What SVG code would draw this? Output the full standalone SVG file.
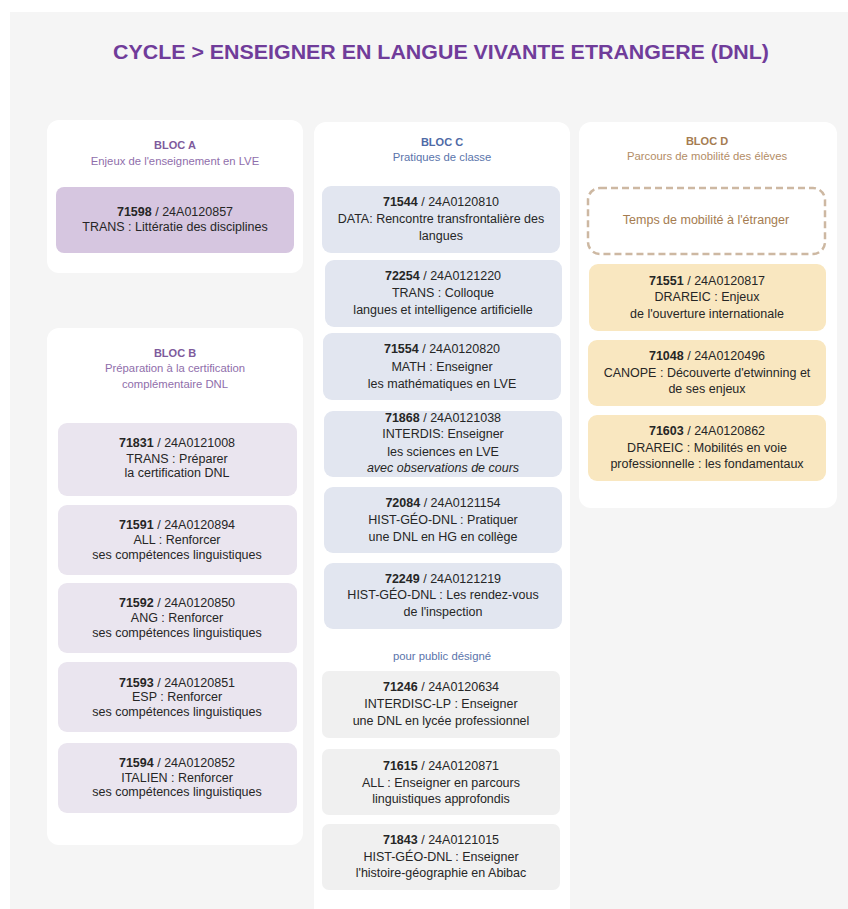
<svg xmlns="http://www.w3.org/2000/svg" width="848" height="909" viewBox="0 0 848 909">
<style>
text{font-family:"Liberation Sans",Arial,sans-serif;text-anchor:middle}
.panel{fill:#ffffff}
.t{font-size:12.5px;fill:#262626}
.b{font-weight:bold}
.hA{font-size:11px;font-weight:bold;fill:#7e5b9c}
.sA{font-size:11.3px;fill:#8f6eab}
.hC{font-size:11px;font-weight:bold;fill:#4e6aa6}
.sC{font-size:11.3px;fill:#5a74ab}
.hD{font-size:11px;font-weight:bold;fill:#a57c50}
.sD{font-size:11.3px;fill:#b38d66}
.nA{fill:#d6c6e0}
.nB{fill:#eae5ef}
.nC{fill:#e2e6f0}
.nP{fill:#f0f0f0}
.nD{fill:#f9e7c0}
</style>
<rect x="0" y="0" width="848" height="909" fill="#ffffff"/>
<rect x="10" y="12" width="838" height="897" fill="#f5f5f5"/>
<text x="441" y="59" font-size="21" font-weight="bold" fill="#703c9a" textLength="656" lengthAdjust="spacingAndGlyphs">CYCLE &gt; ENSEIGNER EN LANGUE VIVANTE ETRANGERE (DNL)</text>

<g id="blocA">
<rect class="panel" x="47" y="120" width="256" height="153" rx="12"/>
<text class="hA" x="175" y="149">BLOC A</text>
<text class="sA" x="175" y="165">Enjeux  de l'enseignement  en LVE</text>
</g>
<g id="n71598">
<rect class="nA" x="56" y="187" width="238" height="66" rx="8"/>
<text class="t" x="175" y="216"><tspan class="b">71598</tspan> / 24A0120857</text>
<text class="t" x="175" y="231">TRANS :  Littératie des disciplines</text>
</g>

<g id="blocB">
<rect class="panel" x="47" y="328" width="256" height="517" rx="12"/>
<text class="hA" x="175" y="357">BLOC B</text>
<text class="sA" x="175" y="372">Préparation  à la certification</text>
<text class="sA" x="175" y="388">complémentaire  DNL</text>
</g>
<g id="n71831">
<rect class="nB" x="58" y="423" width="239" height="73" rx="9"/>
<text class="t" x="177" y="447"><tspan class="b">71831</tspan> / 24A0121008</text>
<text class="t" x="177" y="463">TRANS : Préparer</text>
<text class="t" x="177" y="477">la certification DNL</text>
</g>
<g id="n71591">
<rect class="nB" x="58" y="505" width="239" height="70" rx="9"/>
<text class="t" x="177" y="529"><tspan class="b">71591</tspan> / 24A0120894</text>
<text class="t" x="177" y="544">ALL : Renforcer</text>
<text class="t" x="177" y="559">ses compétences linguistiques</text>
</g>
<g id="n71592">
<rect class="nB" x="58" y="583" width="239" height="70" rx="9"/>
<text class="t" x="177" y="607"><tspan class="b">71592</tspan> / 24A0120850</text>
<text class="t" x="177" y="622">ANG : Renforcer</text>
<text class="t" x="177" y="637">ses compétences linguistiques</text>
</g>
<g id="n71593">
<rect class="nB" x="58" y="662" width="239" height="70" rx="9"/>
<text class="t" x="177" y="687"><tspan class="b">71593</tspan> / 24A0120851</text>
<text class="t" x="177" y="701">ESP : Renforcer</text>
<text class="t" x="177" y="716">ses compétences linguistiques</text>
</g>
<g id="n71594">
<rect class="nB" x="58" y="743" width="239" height="70" rx="9"/>
<text class="t" x="177" y="767"><tspan class="b">71594</tspan> / 24A0120852</text>
<text class="t" x="177" y="782">ITALIEN : Renforcer</text>
<text class="t" x="177" y="796">ses compétences linguistiques</text>
</g>

<g id="blocC">
<rect class="panel" x="314" y="122" width="256" height="800" rx="12"/>
<text class="hC" x="442" y="146">BLOC C</text>
<text class="sC" x="442" y="161">Pratiques  de classe</text>
<text class="sC" x="442" y="660" font-size="12">pour public désigné</text>
</g>
<g id="n71544">
<rect class="nC" x="322" y="186" width="238" height="67" rx="9"/>
<text class="t" x="441" y="206"><tspan class="b">71544</tspan> / 24A0120810</text>
<text class="t" x="441" y="223">DATA: Rencontre transfrontalière des</text>
<text class="t" x="441" y="240">langues</text>
</g>
<g id="n72254">
<rect class="nC" x="325" y="260" width="237" height="67" rx="9"/>
<text class="t" x="443" y="280"><tspan class="b">72254</tspan> / 24A0121220</text>
<text class="t" x="443" y="297">TRANS : Colloque</text>
<text class="t" x="443" y="314">langues et intelligence artificielle</text>
</g>
<g id="n71554">
<rect class="nC" x="323" y="333" width="238" height="67" rx="9"/>
<text class="t" x="442" y="353"><tspan class="b">71554</tspan> / 24A0120820</text>
<text class="t" x="442" y="371">MATH : Enseigner</text>
<text class="t" x="442" y="388">les mathématiques en LVE</text>
</g>
<g id="n71868">
<rect class="nC" x="324" y="411" width="238" height="66" rx="9"/>
<text class="t" x="443" y="422"><tspan class="b">71868</tspan> / 24A0121038</text>
<text class="t" x="443" y="438">INTERDIS: Enseigner</text>
<text class="t" x="443" y="456">les sciences en LVE</text>
<text class="t" x="443" y="472" font-style="italic">avec observations de cours</text>
</g>
<g id="n72084">
<rect class="nC" x="324" y="487" width="238" height="66" rx="9"/>
<text class="t" x="443" y="507"><tspan class="b">72084</tspan> / 24A0121154</text>
<text class="t" x="443" y="524">HIST-GÉO-DNL : Pratiquer</text>
<text class="t" x="443" y="541">une DNL en HG en collège</text>
</g>
<g id="n72249">
<rect class="nC" x="324" y="563" width="238" height="66" rx="9"/>
<text class="t" x="443" y="583"><tspan class="b">72249</tspan> / 24A0121219</text>
<text class="t" x="443" y="599">HIST-GÉO-DNL : Les rendez-vous</text>
<text class="t" x="443" y="616">de l'inspection</text>
</g>
<g id="n71246">
<rect class="nP" x="322" y="671" width="238" height="67" rx="7"/>
<text class="t" x="441" y="691"><tspan class="b">71246</tspan> / 24A0120634</text>
<text class="t" x="441" y="708">INTERDISC-LP : Enseigner</text>
<text class="t" x="441" y="725">une DNL en lycée professionnel</text>
</g>
<g id="n71615">
<rect class="nP" x="322" y="749" width="238" height="66" rx="7"/>
<text class="t" x="441" y="770"><tspan class="b">71615</tspan> / 24A0120871</text>
<text class="t" x="441" y="787">ALL :  Enseigner en parcours</text>
<text class="t" x="441" y="803">linguistiques approfondis</text>
</g>
<g id="n71843">
<rect class="nP" x="322" y="824" width="238" height="66" rx="7"/>
<text class="t" x="441" y="844"><tspan class="b">71843</tspan> / 24A0121015</text>
<text class="t" x="441" y="861">HIST-GÉO-DNL : Enseigner</text>
<text class="t" x="441" y="877">l'histoire-géographie en Abibac</text>
</g>

<g id="blocD">
<rect class="panel" x="579" y="122" width="258" height="386" rx="12"/>
<text class="hD" x="707" y="145">BLOC D</text>
<text class="sD" x="707" y="160">Parcours de mobilité  des élèves</text>
</g>
<g id="mobilite">
<rect x="588" y="188" width="237" height="66" rx="12" fill="#ffffff" stroke="#cdb8a2" stroke-width="2.5" stroke-dasharray="7,4"/>
<text x="706" y="224" font-size="12.5" fill="#a57c50">Temps de mobilité à l'étranger</text>
</g>
<g id="n71551">
<rect class="nD" x="589" y="264" width="237" height="67" rx="9"/>
<text class="t" x="707" y="285"><tspan class="b">71551</tspan> / 24A0120817</text>
<text class="t" x="707" y="301">DRAREIC : Enjeux</text>
<text class="t" x="707" y="318">de l'ouverture internationale</text>
</g>
<g id="n71048">
<rect class="nD" x="588" y="340" width="238" height="66" rx="9"/>
<text class="t" x="707" y="360"><tspan class="b">71048</tspan> / 24A0120496</text>
<text class="t" x="707" y="377">CANOPE :  Découverte d'etwinning et</text>
<text class="t" x="707" y="393">de ses enjeux</text>
</g>
<g id="n71603">
<rect class="nD" x="588" y="415" width="238" height="66" rx="9"/>
<text class="t" x="707" y="435"><tspan class="b">71603</tspan> / 24A0120862</text>
<text class="t" x="707" y="452">DRAREIC : Mobilités en voie</text>
<text class="t" x="707" y="468">professionnelle :  les fondamentaux</text>
</g>
<g id="connectors"></g>
</svg>
